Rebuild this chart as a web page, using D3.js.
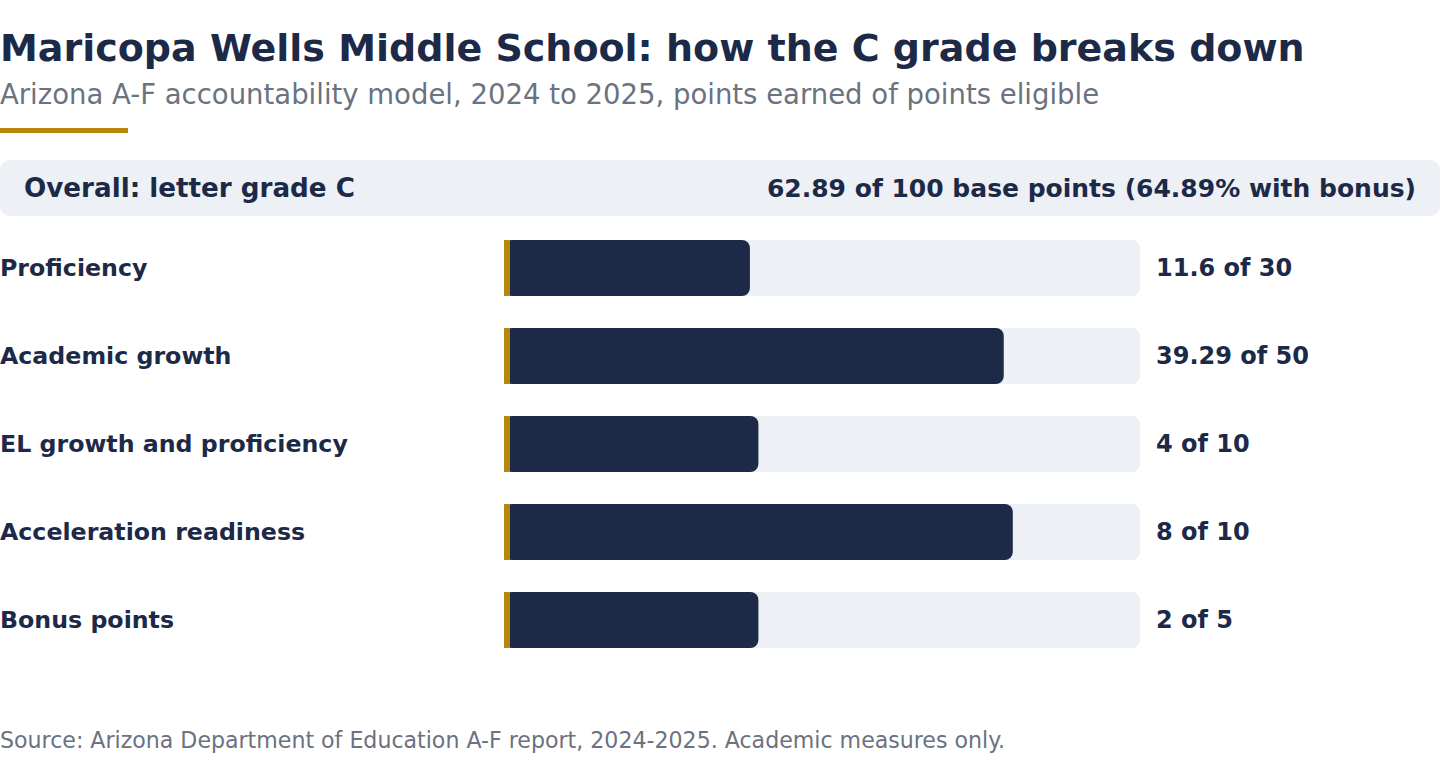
<!DOCTYPE html>
<html><head><meta charset="utf-8">
<script src="https://cdn.jsdelivr.net/npm/d3@7"></script>
<style>body{margin:0;background:#fff;}svg{display:block;font-family:"DejaVu Sans",sans-serif;}</style>
</head><body>
<svg id="c" width="1440" height="768"></svg>
<script>
const categories = ["Proficiency","Academic growth","EL growth and proficiency","Acceleration readiness","Bonus points"];
const earned = [11.6, 39.29, 4, 8, 2];
const eligible = [30, 50, 10, 10, 5];
const valueLabels = ["11.6 of 30","39.29 of 50","4 of 10","8 of 10","2 of 5"];
const overallLabel = "Overall: letter grade C";
const overallValue = "62.89 of 100 base points (64.89% with bonus)";

const navy="#1c2a48", track="#edf0f5", gold="#b8860b", gray="#6b7280";
const svg=d3.select("#c");

svg.append("text").attr("x",0).attr("y",61).attr("fill",navy).attr("font-size",38).attr("font-weight","bold")
  .text("Maricopa Wells Middle School: how the C grade breaks down");
svg.append("text").attr("x",0).attr("y",104).attr("fill",gray).attr("font-size",27.5)
  .text("Arizona A-F accountability model, 2024 to 2025, points earned of points eligible");
svg.append("rect").attr("x",0).attr("y",128).attr("width",128).attr("height",5).attr("fill",gold);

svg.append("rect").attr("x",0).attr("y",160).attr("width",1440).attr("height",56).attr("rx",10).attr("fill",track);
svg.append("text").attr("x",24).attr("y",188).attr("dy","0.36em").attr("fill",navy).attr("font-size",26.2).attr("font-weight","bold").text(overallLabel);
svg.append("text").attr("x",1416).attr("y",188).attr("dy","0.36em").attr("text-anchor","end").attr("fill",navy).attr("font-size",25).attr("font-weight","bold").text(overallValue);

const x=d3.scaleLinear().domain([0,1]).range([504,1140]);
const y=d3.scaleBand().domain(categories).range([224,664]).paddingInner(32/88).paddingOuter(16/88);

const g=svg.append("g");
const rows=g.selectAll("g.row").data(categories).enter().append("g");
rows.append("rect").attr("x",x(0)).attr("y",d=>y(d)).attr("width",x(1)-x(0)).attr("height",y.bandwidth()).attr("rx",8).attr("fill",track);
rows.append("rect").attr("x",x(0)).attr("y",d=>y(d)).attr("width",(d,i)=>x(earned[i]/eligible[i])-x(0)).attr("height",y.bandwidth()).attr("rx",8).attr("fill",navy);
rows.append("rect").attr("x",x(0)).attr("y",d=>y(d)).attr("width",6).attr("height",y.bandwidth()).attr("fill",gold);
rows.append("text").attr("x",0).attr("y",d=>y(d)+y.bandwidth()/2).attr("dy","0.34em").attr("fill",navy).attr("font-size",23.7).attr("font-weight","bold").text(d=>d);
rows.append("text").attr("x",1156).attr("y",d=>y(d)+y.bandwidth()/2).attr("dy","0.34em").attr("fill",navy).attr("font-size",24).attr("font-weight","bold").text((d,i)=>valueLabels[i]);

svg.append("text").attr("x",0).attr("y",748).attr("fill",gray).attr("font-size",22.1)
  .text("Source: Arizona Department of Education A-F report, 2024-2025. Academic measures only.");
</script>
</body></html>
